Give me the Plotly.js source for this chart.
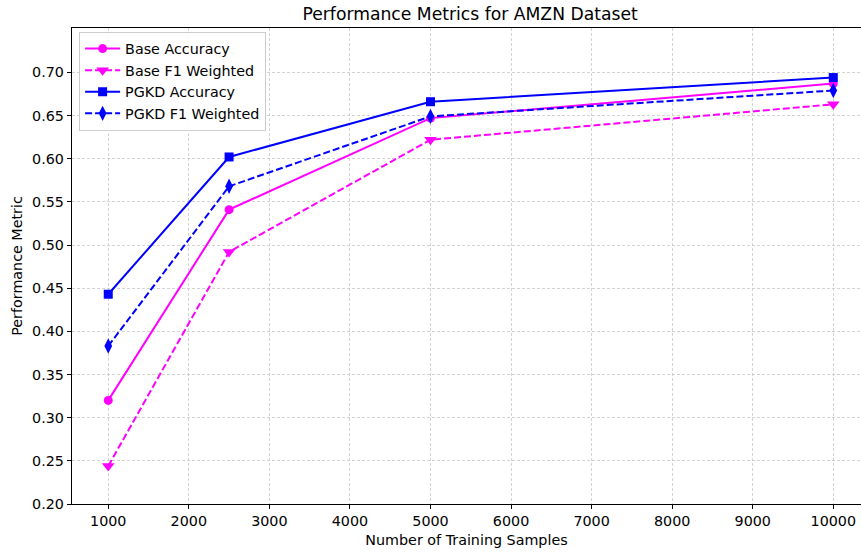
<!DOCTYPE html>
<html>
<head>
<meta charset="utf-8">
<script src="https://cdn.plot.ly/plotly-3.0.1.min.js"></script>
<style>html,body{margin:0;padding:0;overflow:hidden;background:#fff}</style>
</head>
<body>
<div id="chart" style="width:861px;height:552px"></div>
<script>
var samples = [1000, 2500, 5000, 10000];
var baseAccuracy = [0.320, 0.541, 0.647, 0.687];
var baseF1Weighted = [0.244, 0.492, 0.622, 0.663];
var pgkdAccuracy = [0.443, 0.602, 0.666, 0.694];
var pgkdF1Weighted = [0.383, 0.568, 0.649, 0.679];
var xTicks = [1000, 2000, 3000, 4000, 5000, 6000, 7000, 8000, 9000, 10000];
var yTicks = [0.20, 0.25, 0.30, 0.35, 0.40, 0.45, 0.50, 0.55, 0.60, 0.65, 0.70];

var MAG = '#ff00ff', BLU = '#0000ff';
var traces = [
  {x: samples, y: baseAccuracy, name: 'Base Accuracy', mode: 'lines+markers',
   line: {color: MAG, width: 2}, marker: {symbol: 'circle', size: 9, color: MAG}},
  {x: samples, y: baseF1Weighted, name: 'Base F1 Weighted', mode: 'lines+markers',
   line: {color: MAG, width: 2, dash: '7px,3px'}, marker: {symbol: 'triangle-down', size: 11, color: MAG}},
  {x: samples, y: pgkdAccuracy, name: 'PGKD Accuracy', mode: 'lines+markers',
   line: {color: BLU, width: 2}, marker: {symbol: 'square', size: 9, color: BLU}},
  {x: samples, y: pgkdF1Weighted, name: 'PGKD F1 Weighted', mode: 'lines+markers',
   line: {color: BLU, width: 2, dash: '7px,3px'}, marker: {symbol: 'diamond-tall', size: 11, color: BLU}}
];

var font = {family: 'DejaVu Sans, sans-serif', size: 14.3, color: '#000'};
var layout = {
  width: 861, height: 552,
  margin: {l: 72, r: 0, t: 28, b: 48},
  paper_bgcolor: '#fff', plot_bgcolor: '#fff',
  font: font,
  showlegend: true,
  title: {text: 'Performance Metrics for AMZN Dataset', font: {family: 'DejaVu Sans, sans-serif', size: 17.2, color: '#000'},
          x: 0.546, xanchor: 'center', y: 0.975, yanchor: 'middle', xref: 'container', yref: 'container'},
  xaxis: {
    range: [550, 10344], tickvals: xTicks, ticktext: xTicks.map(String),
    showline: true, linecolor: '#000', linewidth: 1.2, mirror: true,
    ticks: 'outside', ticklen: 4, tickcolor: '#000',
    showgrid: true, gridcolor: '#c8c8c8', gridwidth: 0.8, griddash: '3px,2px',
    zeroline: false, tickfont: font,
    title: {text: 'Number of Training Samples', font: font, standoff: 6}
  },
  yaxis: {
    range: [0.20, 0.7514], tickvals: yTicks, ticktext: yTicks.map(function(v){return v.toFixed(2);}),
    showline: true, linecolor: '#000', linewidth: 1.2,
    ticks: 'outside', ticklen: 4, tickcolor: '#000',
    showgrid: true, gridcolor: '#c8c8c8', gridwidth: 0.8, griddash: '3px,2px',
    zeroline: false, tickfont: font,
    title: {text: 'Performance Metric', font: font, standoff: 6}
  },
  legend: {
    x: 0.009, xanchor: 'left', y: 0.992, yanchor: 'top',
    bgcolor: 'rgba(255,255,255,0.9)', bordercolor: '#cccccc', borderwidth: 1,
    font: font, itemwidth: 35
  }
};
Plotly.newPlot('chart', traces, layout, {displayModeBar: false, staticPlot: true});
</script>
</body>
</html>
